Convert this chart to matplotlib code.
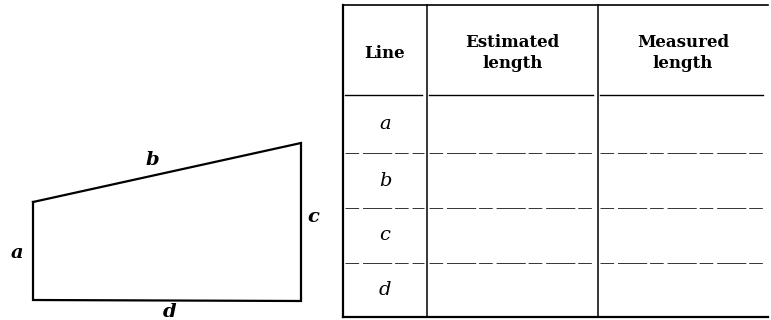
import matplotlib.pyplot as plt

# figure on the left: four corners of the shape (image pixels), side labels
quad_x = [33, 33, 301, 301, 33]
quad_y = [202, 300, 301, 143, 202]
side_labels = ["a", "b", "c", "d"]
side_label_x = [17, 152, 313, 170]
side_label_y = [253, 160, 217, 312]

# table on the right
col_edges = [343, 427, 598, 768]
header_lines = [["Line"], ["Estimated", "length"], ["Measured", "length"]]
row_labels = ["a", "b", "c", "d"]
row_edges = [95, 153, 208, 263, 317]
table_top = 5

fig = plt.figure(figsize=(7.71, 3.2), dpi=100)
ax = fig.add_axes([0, 0, 1, 1])
ax.set_xlim(0, 771)
ax.set_ylim(320, 0)
ax.axis("off")

# the shape
ax.plot(quad_x, quad_y, color="black", lw=1.6, solid_joinstyle="miter")
for lab, x, y in zip(side_labels, side_label_x, side_label_y):
    ax.text(x, y, lab, fontsize=14, fontweight="bold", fontstyle="italic",
            family="DejaVu Serif", ha="center", va="center")

# table frame
ax.plot([col_edges[0], col_edges[0]], [table_top, row_edges[-1]], color="black", lw=1.6)
ax.plot([col_edges[0], col_edges[-1]], [table_top, table_top], color="black", lw=1.2)
ax.plot([col_edges[0], col_edges[-1]], [row_edges[-1], row_edges[-1]], color="black", lw=1.6)
for x in col_edges[1:3]:
    ax.plot([x, x], [table_top, row_edges[-1]], color="black", lw=1.1)

# header text
for i, lines in enumerate(header_lines):
    cx = (col_edges[i] + col_edges[i + 1]) / 2
    cy = (table_top + row_edges[0]) / 2 + 3
    ax.text(cx, cy, "\n".join(lines), fontsize=12, fontweight="bold",
            family="DejaVu Serif", ha="center", va="center", linespacing=1.25)

# header rule, drawn in three pieces with gaps at the dividers
for i in range(3):
    ax.plot([col_edges[i] + 2, col_edges[i + 1] - 5], [row_edges[0], row_edges[0]],
            color="black", lw=1.0)

# row rules, faint and broken as on the scan
for y in row_edges[1:-1]:
    for i in range(3):
        ax.plot([col_edges[i] + 2, col_edges[i + 1] - 3], [y, y], color="#333333",
                lw=0.7, linestyle=(0, (14, 4, 30, 3)))

# row labels
for j, lab in enumerate(row_labels):
    cy = (row_edges[j] + row_edges[j + 1]) / 2
    cx = (col_edges[0] + col_edges[1]) / 2
    ax.text(cx, cy, lab, fontsize=14, fontstyle="italic", family="DejaVu Serif",
            ha="center", va="center")

fig.savefig("out.png", dpi=100, facecolor="white")
